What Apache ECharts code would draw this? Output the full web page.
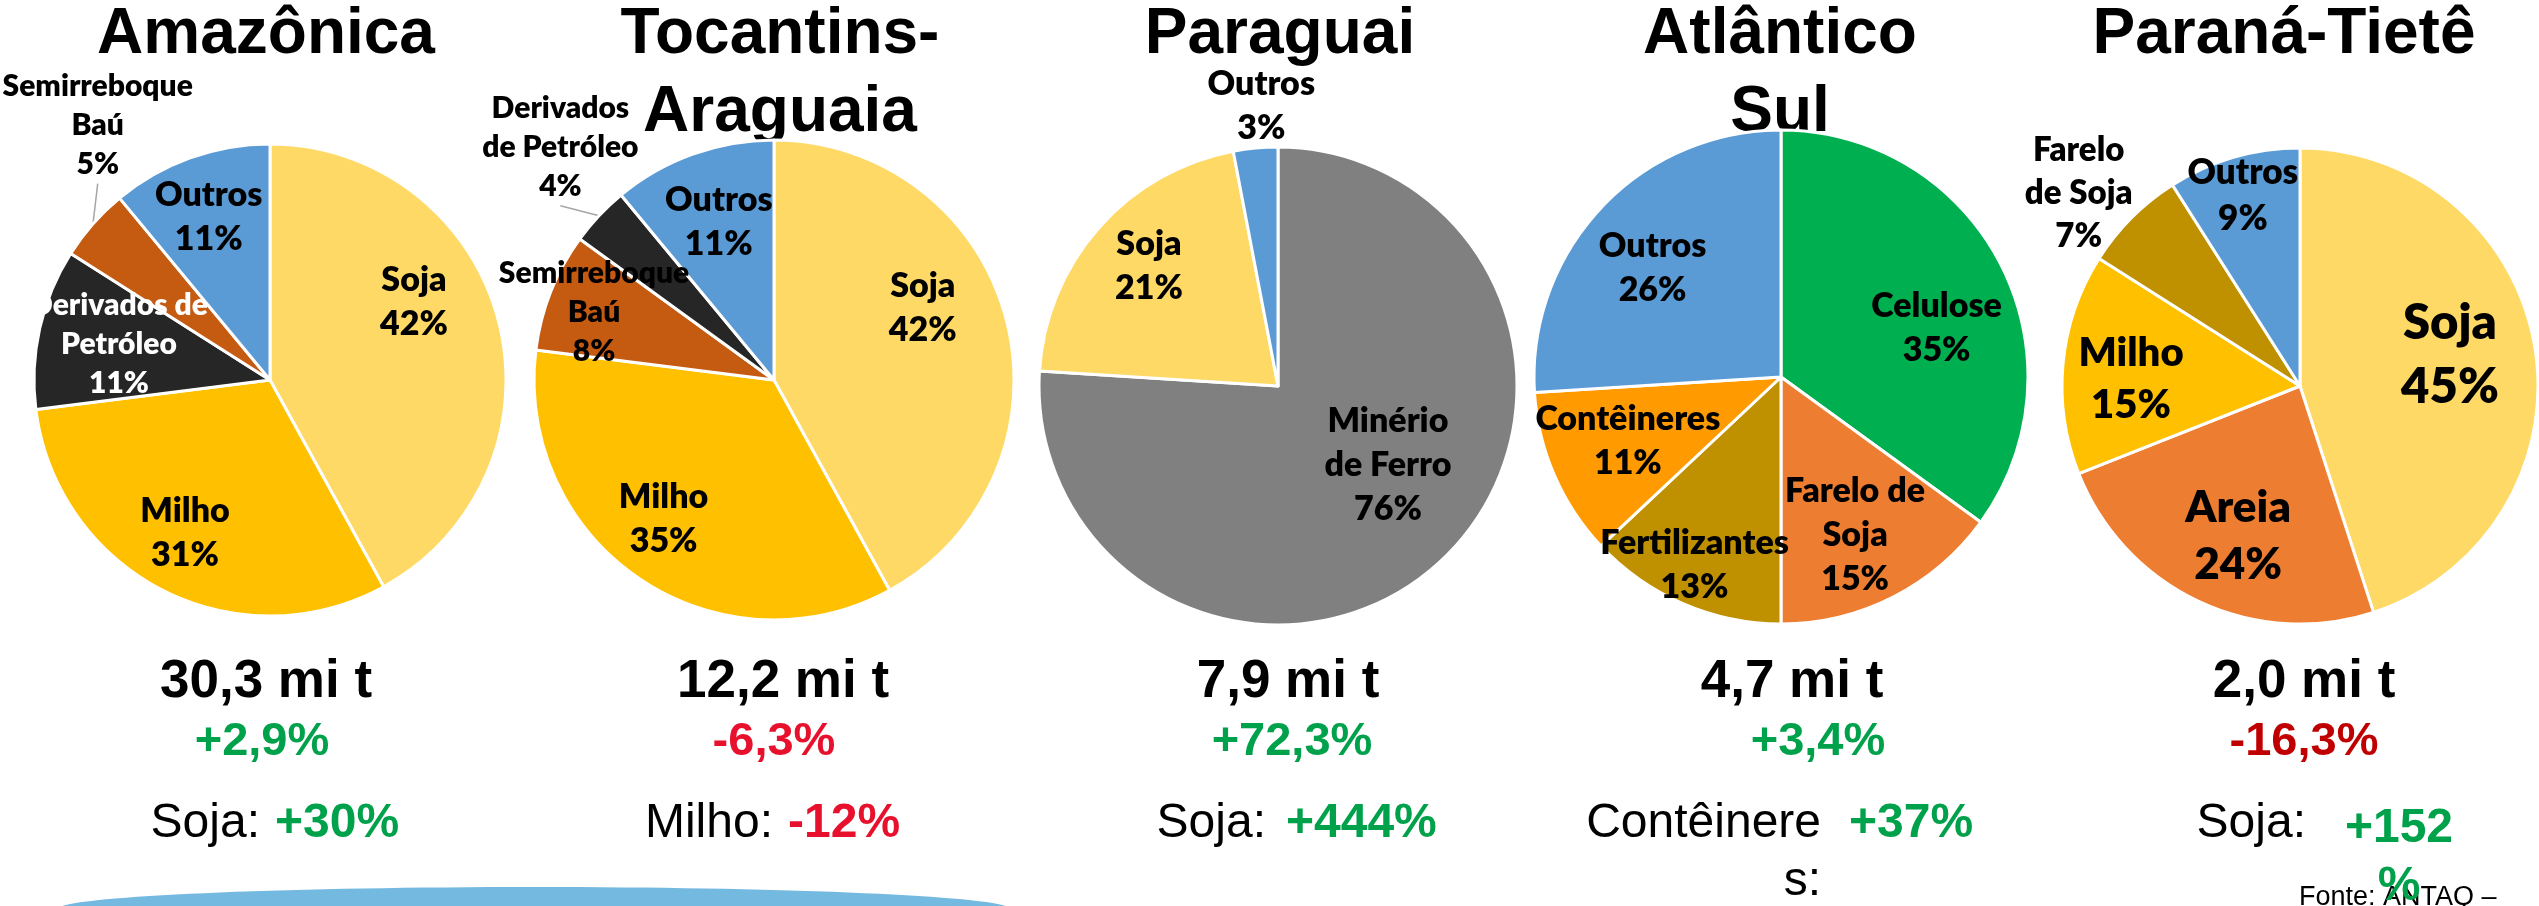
<!DOCTYPE html>
<html lang="pt-BR">
<head>
<meta charset="utf-8">
<title>Principais cargas por hidrovia</title>
<script src="https://cdn.jsdelivr.net/npm/echarts@6/dist/echarts.min.js"></script>
<style>
  html, body { margin: 0; padding: 0; background: #fff; }
  #chart { width: 2539px; height: 906px; }
</style>
</head>
<body>
<div id="chart"></div>
<script>
// --- dados (% da carga por hidrovia) ---
const regions = ['Amazônica', 'Tocantins-\nAraguaia', 'Paraguai', 'Atlântico\nSul', 'Paraná-Tietê'];

const amazonicaCargas = ['Soja', 'Milho', 'Derivados de\nPetróleo', 'Semirreboque\nBaú', 'Outros'];
const amazonicaShare = [42, 31, 11, 5, 11];

const tocantinsCargas = ['Soja', 'Milho', 'Semirreboque\nBaú', 'Derivados\nde Petróleo', 'Outros'];
const tocantinsShare = [42, 35, 8, 4, 11];

const paraguaiCargas = ['Minério\nde Ferro', 'Soja', 'Outros'];
const paraguaiShare = [76, 21, 3];

const atlanticoCargas = ['Celulose', 'Farelo de\nSoja', 'Fertilizantes', 'Contêineres', 'Outros'];
const atlanticoShare = [35, 15, 13, 11, 26];

const paranaCargas = ['Soja', 'Areia', 'Milho', 'Farelo\nde Soja', 'Outros'];
const paranaShare = [45, 24, 15, 7, 9];

const totals = ['30,3 mi t', '12,2 mi t', '7,9 mi t', '4,7 mi t', '2,0 mi t'];
const changes = ['+2,9%', '-6,3%', '+72,3%', '+3,4%', '-16,3%'];
const highlightCargo = ['Soja:', 'Milho:', 'Soja:', 'Contêinere\ns:', 'Soja:'];
const highlightChange = ['+30%', '-12%', '+444%', '+37%', '+152\n%'];
const sourceNote = 'Fonte: ANTAQ –';

// --- estilo ---
const C = {
  soja: '#FFD966', milho: '#FFC000', derivados: '#262626', semi: '#C55A11',
  outros: '#5B9BD5', minerio: '#808080', celulose: '#00B050', laranja: '#ED7D31',
  ouro: '#BF9000', conteiner: '#FF9A00'
};
const GREEN = '#00A14B', RED = '#E8112D', DARKRED = '#C00000';

const sliceColors = [
  [C.soja, C.milho, C.derivados, C.semi, C.outros],
  [C.soja, C.milho, C.semi, C.derivados, C.outros],
  [C.minerio, C.soja, C.outros],
  [C.celulose, C.laranja, C.ouro, C.conteiner, C.outros],
  [C.soja, C.laranja, C.milho, C.ouro, C.outros]
];

// posição dos rótulos: deslocamento a partir do centro, em raios
const labelSpots = [
  [{ x: 0.61, y: -0.33, size: 34 }, { x: -0.36, y: 0.65, size: 34 },
   { x: -0.64, y: -0.15, size: 30, color: '#fff' }, { x: -0.73, y: -1.08, size: 30, out: 'line' },
   { x: -0.26, y: -0.69, size: 34 }],
  [{ x: 0.62, y: -0.30, size: 34 }, { x: -0.46, y: 0.58, size: 34 },
   { x: -0.75, y: -0.28, size: 30 }, { x: -0.89, y: -0.97, size: 30, out: 'line' },
   { x: -0.23, y: -0.66, size: 34 }],
  [{ x: 0.46, y: 0.33, size: 34 }, { x: -0.54, y: -0.50, size: 34 },
   { x: -0.07, y: -1.17, size: 34, out: 'plain' }],
  [{ x: 0.63, y: -0.20, size: 34 }, { x: 0.30, y: 0.64, size: 34 },
   { x: -0.35, y: 0.76, size: 34 }, { x: -0.62, y: 0.26, size: 34 },
   { x: -0.52, y: -0.44, size: 34 }],
  [{ x: 0.63, y: -0.13, size: 49 }, { x: -0.26, y: 0.63, size: 44 },
   { x: -0.71, y: -0.03, size: 40 }, { x: -0.93, y: -0.81, size: 33, out: 'plain' },
   { x: -0.24, y: -0.80, size: 35 }]
];

const pieFrames = [
  { cx: 270, cy: 380, r: 236 },
  { cx: 774, cy: 380, r: 240 },
  { cx: 1278, cy: 386, r: 239 },
  { cx: 1781, cy: 377, r: 247 },
  { cx: 2300, cy: 386, r: 238 }
];
const titleX = [266, 780, 1280, 1780, 2284];

const totalX = [266, 783, 1288, 1792, 2304];
const changeX = [262, 774, 1292, 1818, 2304];
const changeColors = [GREEN, RED, GREEN, GREEN, DARKRED];
const cargoRight = [260, 773, 1266, 1821, 2306];
const valueX = [275, 788, 1286, 1849, 2399];
const valueAlign = ['left', 'left', 'left', 'left', 'center'];
const valueColors = [GREEN, RED, GREEN, GREEN, GREEN];

const pieNames = [amazonicaCargas, tocantinsCargas, paraguaiCargas, atlanticoCargas, paranaCargas];
const pieValues = [amazonicaShare, tocantinsShare, paraguaiShare, atlanticoShare, paranaShare];

const chart = echarts.init(document.getElementById('chart'), null, { renderer: 'canvas' });

const series = pieNames.map((names, i) => {
  const f = pieFrames[i];
  const spots = labelSpots[i];
  return {
    type: 'pie',
    z: 2,
    center: [f.cx, f.cy],
    radius: f.r,
    startAngle: 90,
    clockwise: true,
    avoidLabelOverlap: false,
    animation: false,
    silent: true,
    itemStyle: { borderColor: '#fff', borderWidth: 3 },
    label: {
      show: true,
      fontFamily: 'Lato',
      fontWeight: 800,
      color: '#000',
      align: 'center',
      formatter: (p) => p.name + '\n' + p.value + '%'
    },
    labelLine: { length: 10, length2: 0, lineStyle: { color: '#A6A6A6', width: 1.5 } },
    labelLayout: (p) => {
      const s = spots[p.dataIndex];
      return {
        x: f.cx + s.x * f.r,
        y: f.cy + s.y * f.r,
        align: 'center',
        verticalAlign: 'middle'
      };
    },
    data: names.map((name, j) => {
      const s = spots[j];
      return {
        name: name,
        value: pieValues[i][j],
        itemStyle: { color: sliceColors[i][j] },
        label: {
          position: s.out ? 'outside' : 'inside',
          fontSize: s.size,
          lineHeight: Math.round(s.size * 1.3),
          color: s.color || '#000'
        },
        labelLine: { show: s.out === 'line' }
      };
    })
  };
});

const graphics = [];

// faixa azul no rodapé
graphics.push({
  type: 'ellipse', z: 0,
  shape: { cx: 534, cy: 909, rx: 476, ry: 22 },
  style: { fill: '#74B9E0' }
});

regions.forEach((r, i) => {
  graphics.push({
    type: 'text', z: 0,
    x: titleX[i], y: -4,
    style: {
      text: r, align: 'center', verticalAlign: 'top', lineHeight: 78,
      font: 'bold 64px "Liberation Sans", Arial, sans-serif', fill: '#000'
    }
  });
  graphics.push({
    type: 'text', z: 5,
    x: totalX[i], y: 682,
    style: {
      text: totals[i], align: 'center', verticalAlign: 'middle',
      font: 'bold 53px "Liberation Sans", Arial, sans-serif', fill: '#000'
    }
  });
  graphics.push({
    type: 'text', z: 5,
    x: changeX[i], y: 742,
    style: {
      text: changes[i], align: 'center', verticalAlign: 'middle',
      font: 'bold 47px "Liberation Sans", Arial, sans-serif', fill: changeColors[i]
    }
  });
  graphics.push({
    type: 'text', z: 5,
    x: cargoRight[i], y: 795,
    style: {
      text: highlightCargo[i], align: 'right', verticalAlign: 'top', lineHeight: 58,
      font: '48px "Liberation Sans", Arial, sans-serif', fill: '#000'
    }
  });
  graphics.push({
    type: 'text', z: 6,
    x: valueX[i], y: i === 4 ? 800 : 795,
    style: {
      text: highlightChange[i], align: valueAlign[i], verticalAlign: 'top', lineHeight: 58,
      font: 'bold 48px "Liberation Sans", Arial, sans-serif', fill: valueColors[i]
    }
  });
});

graphics.push({
  type: 'text', z: 5,
  x: 2299, y: 898,
  style: {
    text: sourceNote, align: 'left', verticalAlign: 'middle',
    font: '27px "Liberation Sans", Arial, sans-serif', fill: '#000'
  }
});

chart.setOption({
  backgroundColor: '#fff',
  animation: false,
  graphic: { elements: graphics },
  series: series
});
</script>
</body>
</html>
